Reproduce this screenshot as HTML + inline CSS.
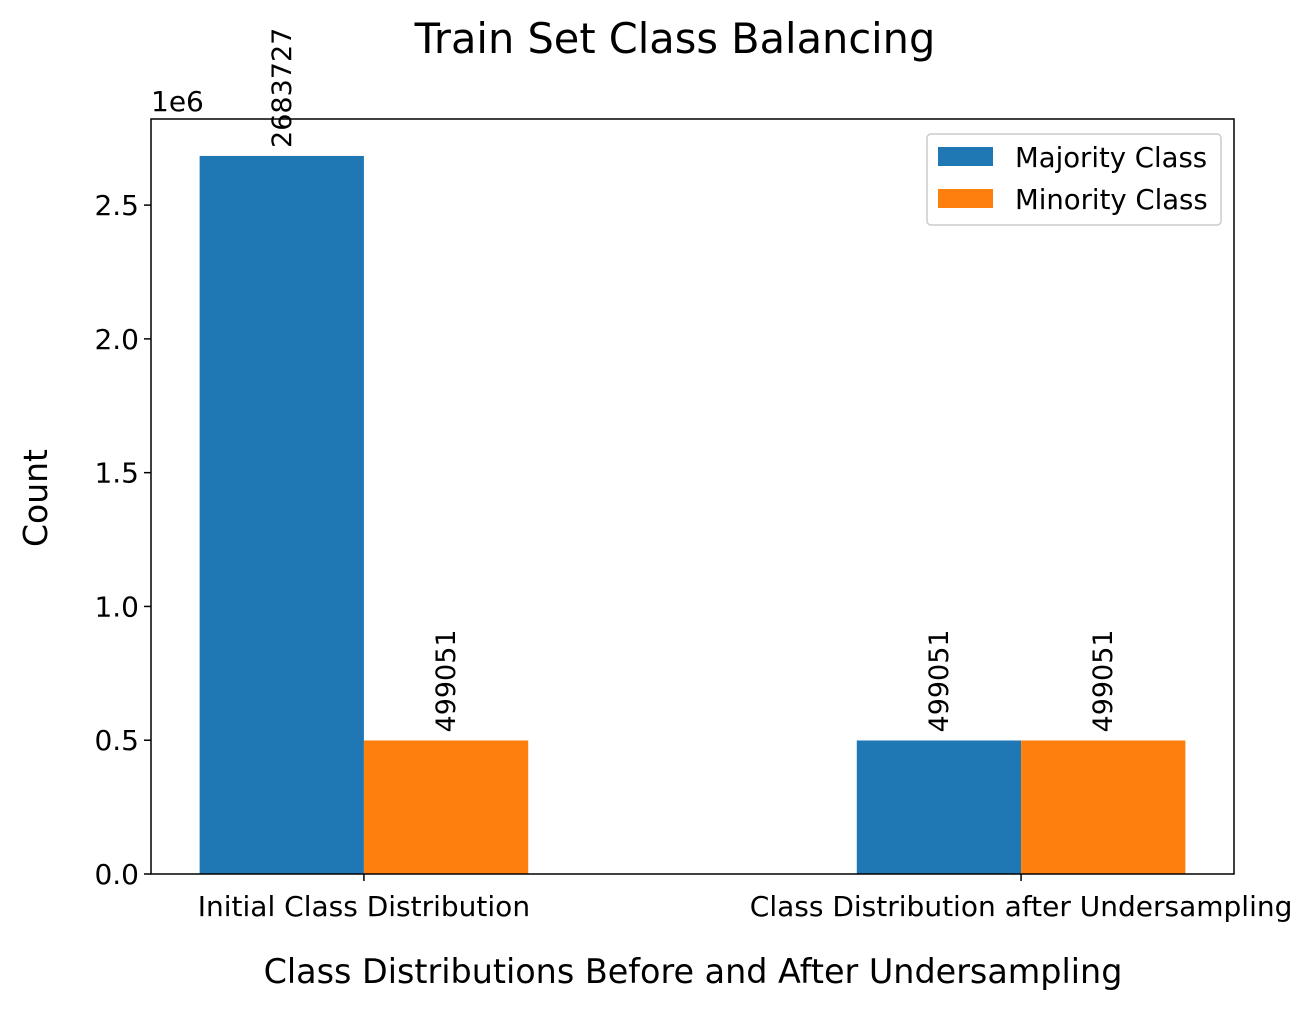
<!DOCTYPE html>
<html><head><meta charset="utf-8"><style>
body{margin:0;background:#fff;}
svg text{font-family:"DejaVu Sans","Liberation Sans",sans-serif;fill:#000;}
</style></head><body>
<svg id="chart" width="1310" height="1008" xmlns="http://www.w3.org/2000/svg">
<text x="675" y="53" font-size="41.5" text-anchor="middle">Train Set Class Balancing</text>
<g id="plot"></g>
<text x="693" y="983" font-size="33.4" text-anchor="middle">Class Distributions Before and After Undersampling</text>
<text transform="translate(47,498) rotate(-90)" font-size="33" text-anchor="middle">Count</text>
<text x="151" y="111" font-size="28">1e6</text>
<g>
<rect x="927" y="134" width="294" height="91" fill="#fff" stroke="#ccc" stroke-width="1.5" rx="4"/>
<rect x="938" y="147" width="55" height="19" fill="#1f77b4"/>
<text x="1015" y="167" font-size="27.5">Majority Class</text>
<rect x="938" y="189" width="55" height="19" fill="#ff7f0e"/>
<text x="1015" y="209" font-size="27.5">Minority Class</text>
</g>
</svg>
<script>
const categories = ["Initial Class Distribution", "Class Distribution after Undersampling"];
const majority = [2683727, 499051];
const minority = [499051, 499051];
const yTicks = [0, 0.5, 1.0, 1.5, 2.0, 2.5];
const yTickLabels = ["0.0", "0.5", "1.0", "1.5", "2.0", "2.5"];

const L=151,R=1234,T=119,B=874;
const xmin=-0.324,xmax=1.324,ymax=2.8218e6;
const xs=v=>L+(v-xmin)/(xmax-xmin)*(R-L);
const ys=v=>B-v/ymax*(B-T);
const NS="http://www.w3.org/2000/svg";
const g=document.getElementById('plot');
function mk(t,a){const e=document.createElementNS(NS,t);for(const k in a)e.setAttribute(k,a[k]);g.appendChild(e);return e;}
const bw=0.25;
const series=[{vals:majority,color:"#1f77b4",off:-bw/2,name:"majority"},{vals:minority,color:"#ff7f0e",off:bw/2,name:"minority"}];
series.forEach(s=>{
  s.vals.forEach((v,i)=>{
    const x0=xs(i+s.off-bw/2),x1=xs(i+s.off+bw/2);
    const r=mk('rect',{x:x0,y:ys(v),width:x1-x0,height:B-ys(v),fill:s.color});
    
    
    const cx=xs(i+s.off)+9,cy=ys(v)-8;
    const t=mk('text',{x:cx,y:cy,'font-size':27,transform:`rotate(-90 ${cx} ${cy})`});
    t.textContent=String(v);
    
    
  });
});
const frame=mk('rect',{x:L,y:T,width:R-L,height:B-T,fill:'none',stroke:'#000','stroke-width':1.5});


yTicks.forEach((v,i)=>{
  const y=ys(v*1e6);
  mk('line',{x1:L-7,x2:L,y1:y,y2:y,stroke:'#000','stroke-width':1.5});
  const t=mk('text',{x:L-12,y:y+10,'font-size':28,'text-anchor':'end'});
  t.textContent=yTickLabels[i];
  
  
});
categories.forEach((c,i)=>{
  const x=xs(i);
  mk('line',{x1:x,x2:x,y1:B,y2:B+7,stroke:'#000','stroke-width':1.5});
  const t=mk('text',{x:x,y:B+42,'font-size':28,'text-anchor':'middle'});
  t.textContent=c;
  
  
});
</script>
</body></html>
